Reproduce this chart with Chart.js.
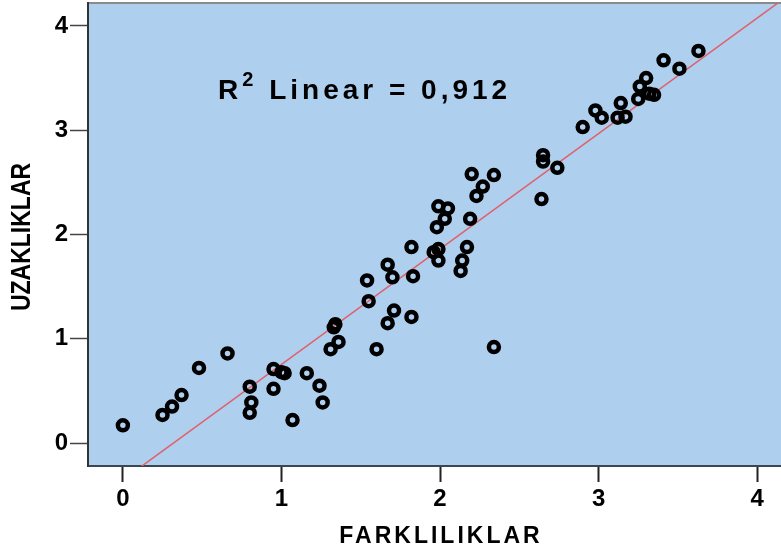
<!DOCTYPE html>
<html>
<head>
<meta charset="utf-8">
<script src="https://cdn.jsdelivr.net/npm/chart.js@4.4.1/dist/chart.umd.min.js"></script>
<style>
  html, body { margin: 0; padding: 0; background: #fff; overflow: hidden; }
  #wrap { width: 795px; height: 553px; }
</style>
</head>
<body>
<div id="wrap"><canvas id="chart" width="795" height="553"></canvas></div>
<script>
// FARKLILIKLAR (x) vs UZAKLIKLAR (y)
const farkliliklar = [0.00, 0.25, 0.31, 0.37, 0.48, 0.66, 0.80, 0.81, 0.80, 0.95, 0.95, 1.00, 1.02, 1.07,
  1.16, 1.24, 1.26, 1.31, 1.33, 1.34, 1.36, 1.54, 1.55, 1.60, 1.67, 1.70, 1.67, 1.71, 1.82, 1.83, 1.82,
  1.98, 1.96, 1.99, 1.99, 2.03, 1.99, 2.05, 2.17, 2.14, 2.13, 2.19, 2.20, 2.23, 2.27, 2.34, 2.34,
  2.64, 2.65, 2.65, 2.74, 2.90, 2.98, 3.02, 3.12, 3.17, 3.14, 3.25, 3.26, 3.30, 3.32, 3.35, 3.41, 3.51, 3.63];
const uzakliklar = [0.17, 0.27, 0.35, 0.46, 0.72, 0.86, 0.54, 0.39, 0.29, 0.71, 0.52, 0.68, 0.67, 0.22,
  0.67, 0.55, 0.39, 0.90, 1.11, 1.14, 0.97, 1.56, 1.36, 0.90, 1.71, 1.59, 1.15, 1.27, 1.88, 1.60, 1.21,
  2.07, 1.83, 1.86, 1.75, 2.15, 2.27, 2.25, 1.88, 1.75, 1.65, 2.15, 2.58, 2.37, 2.46, 2.57, 0.92,
  2.34, 2.76, 2.70, 2.64, 3.03, 3.19, 3.12, 3.12, 3.13, 3.26, 3.30, 3.42, 3.50, 3.35, 3.34, 3.67, 3.59, 3.76];

const tickValues = [0, 1, 2, 3, 4];
const axisMin = -0.22, axisMax = 4.22;

// fit line as drawn in the picture
const fitSlope = 1.107;
const fitIntercept = -0.353;
const fitX = [axisMin, axisMax];

const rSquaredText = { label: 'R', sup: '2', rest: ' Linear = 0,912', x: 0.6, y: 3.3 };

const points = farkliliklar.map((v, i) => ({ x: v, y: uzakliklar[i] }));
const fitPoints = fitX.map(v => ({ x: v, y: fitIntercept + fitSlope * v }));

const FONT = '"Liberation Sans", Arial, sans-serif';

const plotDecor = {
  id: 'plotDecor',
  beforeDraw(chart) {
    const { ctx, chartArea: a } = chart;
    ctx.save();
    ctx.fillStyle = '#aecfee';
    ctx.fillRect(a.left, a.top, a.right - a.left, a.bottom - a.top);
    ctx.strokeStyle = '#8a8a8a';
    ctx.lineWidth = 2;
    ctx.beginPath();
    ctx.moveTo(a.left, a.top);
    ctx.lineTo(a.right, a.top);
    ctx.lineTo(a.right, a.bottom);
    ctx.stroke();
    ctx.restore();
  },
  afterDraw(chart) {
    const { ctx, scales } = chart;
    ctx.save();
    ctx.fillStyle = '#000';
    // R^2 annotation
    let px = scales.x.getPixelForValue(rSquaredText.x);
    const py = scales.y.getPixelForValue(rSquaredText.y);
    ctx.textBaseline = 'alphabetic';
    ctx.textAlign = 'left';
    ctx.letterSpacing = '4px';
    ctx.font = 'bold 28px ' + FONT;
    ctx.fillText(rSquaredText.label, px, py);
    px += ctx.measureText(rSquaredText.label).width;
    ctx.font = 'bold 20px ' + FONT;
    ctx.fillText(rSquaredText.sup, px, py - 13);
    px += ctx.measureText(rSquaredText.sup).width;
    ctx.font = 'bold 28px ' + FONT;
    ctx.fillText(rSquaredText.rest, px, py);

    // axis titles
    ctx.font = 'bold 23px ' + FONT;
    ctx.letterSpacing = '3px';
    ctx.textAlign = 'center';
    ctx.textBaseline = 'middle';
    ctx.fillText('FARKLILIKLAR', 441, 537);
    ctx.letterSpacing = '0px';
    ctx.translate(22.5, 237);
    ctx.rotate(-Math.PI / 2);
    ctx.scale(1, 1.2);
    ctx.fillText('UZAKLIKLAR', 0, 0);
    ctx.restore();
  }
};

new Chart(document.getElementById('chart'), {
  type: 'scatter',
  data: {
    datasets: [{
      label: 'Points',
      data: points,
      pointStyle: 'circle',
      pointRadius: 5,
      pointBorderWidth: 4.5,
      borderColor: '#000',
      backgroundColor: 'rgba(0,0,0,0)',
      order: 1
    }, {
      type: 'line',
      label: 'Fit',
      data: fitPoints,
      borderColor: '#e0606a',
      borderWidth: 1.5,
      pointRadius: 0,
      fill: false,
      order: 2
    }]
  },
  options: {
    responsive: false,
    animation: false,
    layout: { autoPadding: false, padding: { top: 3, right: 3, left: 0, bottom: 0 } },
    plugins: { legend: { display: false }, tooltip: { enabled: false } },
    scales: {
      x: {
        type: 'linear',
        min: axisMin,
        max: axisMax,
        afterFit(s) { s.height = 87; s.paddingLeft = 0; s.paddingRight = 0; },
        afterBuildTicks(s) { s.ticks = tickValues.map(v => ({ value: v })); },
        ticks: { font: { family: FONT, size: 24, weight: 'bold' }, color: '#000', padding: 3 },
        grid: { drawOnChartArea: false, tickLength: 16, tickColor: '#222', tickWidth: 2 },
        border: { display: true, color: '#3a4652', width: 2 }
      },
      y: {
        type: 'linear',
        min: axisMin,
        max: axisMax,
        afterFit(s) { s.width = 88; s.paddingTop = 0; s.paddingBottom = 0; },
        afterBuildTicks(s) { s.ticks = tickValues.map(v => ({ value: v })); },
        ticks: { font: { family: FONT, size: 24, weight: 'bold' }, color: '#000', padding: 2 },
        grid: { drawOnChartArea: false, tickLength: 18, tickColor: '#444', tickWidth: 1.5 },
        border: { display: true, color: '#333', width: 2 }
      }
    }
  },
  plugins: [plotDecor]
});
</script>
</body>
</html>
